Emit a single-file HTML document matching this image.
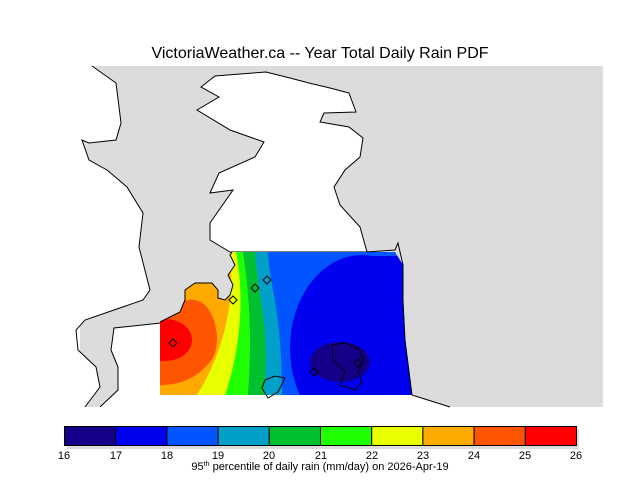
<!DOCTYPE html>
<html><head><meta charset="utf-8"><style>
body{margin:0;background:#fff;}
svg{display:block;font-family:"Liberation Sans",sans-serif;}
</style></head><body>
<svg width="640" height="480" viewBox="0 0 640 480">
<text x="320" y="58" font-size="16" text-anchor="middle" fill="#000">VictoriaWeather.ca -- Year Total Daily Rain PDF</text>
<rect x="80" y="66" width="523" height="341" fill="#dcdcdc"/>
<path d="M80,66 L92,66 L116,83 L121,123 L116,140 L89,143 L82,140 L89,160 L107,170 L127,187 L143,213 L139,247 L150,290 L143,300 L114,310 L85,320 L76,330 L78,350 L96,367 L100,387 L85,407 L80,407 Z" fill="#fff"/>
<path d="M92,66 L116,83 L121,123 L116,140 L89,143 L82,140 L89,160 L107,170 L127,187 L143,213 L139,247 L150,290 L143,300 L114,310 L85,320 L76,330 L78,350 L96,367 L100,387 L85,407" fill="none" stroke="#000"/>
<path d="M161,323 L114,328 L111,350 L118,367 L118,390 L100,407 L160,407 Z" fill="#fff"/>
<path d="M161,323 L114,328 L111,350 L118,367 L118,390 L100,407" fill="none" stroke="#000"/>
<rect x="159" y="394" width="256" height="13" fill="#fff"/>
<path d="M201,87 L215,76 L240,74 L266,72 L290,78 L309,83 L330,88 L349,93 L356,112 L324,113 L320,122 L349,127 L363,138 L360,157 L345,170 L334,187 L340,205 L360,227 L367,252 L230,252 L210,240 L210,223 L233,190 L210,193 L219,173 L255,157 L264,142 L230,130 L197,110 L219,97 Z" fill="#fff" stroke="#000" stroke-width="1"/>
<path d="M412,395 L450,407 L415,407 Z" fill="#fff"/>
<path d="M412,395 L450,407" stroke="#000" fill="none"/>
<defs><clipPath id="c"><path d="M160,395 L160,322 L168,318 L180,312 L185,300 L185,290 L195,283 L212,283 L218,290 L218,298 L225,300 L230,295 L233,285 L228,275 L235,265 L230,255 L232,252 L395,252 L403,265 L403,300 L405,340 L412,395 Z"/></clipPath></defs>
<g clip-path="url(#c)">
<rect x="150" y="250" width="270" height="150" fill="#0055ff"/>
<ellipse cx="362" cy="348" rx="72" ry="93" fill="#0000f0"/>
<rect x="362" y="256" width="60" height="145" fill="#0000f0"/>
<ellipse cx="340" cy="362" rx="30" ry="20" fill="#140088"/>
<path d="M150,252 L268,252 C270,290 282,310 282,395 L150,395 Z" fill="#00a0c8"/>
<path d="M150,252 L255,252 C258,300 270,320 264,395 L150,395 Z" fill="#00c030"/>
<path d="M150,252 L243,252 C250,300 252,340 248,395 L150,395 Z" fill="#20ff00"/>
<path d="M150,252 L236,252 C245,300 240,350 225,395 L150,395 Z" fill="#e8ff00"/>
<path d="M150,252 L230,252 C235,300 225,350 197,395 L150,395 Z" fill="#ffaa00"/>
<path d="M150,300 L188,300 C215,295 225,345 210,362 C195,380 178,385 160,385 L150,385 Z" fill="#ff5500"/>
<ellipse cx="165" cy="340" rx="27" ry="21" fill="#ff0000"/>
</g>
<path d="M160,322 L168,318 L180,312 L185,300 L185,290 L195,283 L212,283 L218,290 L218,298 L225,300 L230,295 L233,285 L228,275 L235,265 L230,255 L232,252" fill="none" stroke="#000"/>
<path d="M367,252 L395,250 L398,243 L403,265 L403,300 L405,340 L412,395" fill="none" stroke="#000"/>
<path d="M265,380 L275,376 L285,378 L278,392 L268,398 L262,388 Z" fill="none" stroke="#000"/>
<path d="M332,345 L345,343 L360,350 L363,362 L358,372 L362,382 L355,390 L340,385 L345,372 L333,360 Z" fill="none" stroke="#000"/>
<g fill="none" stroke="#000">
<path d="M173,339 l4,4 l-4,4 l-4,-4 z"/>
<path d="M233,296 l4,4 l-4,4 l-4,-4 z"/>
<path d="M255,284 l4,4 l-4,4 l-4,-4 z"/>
<path d="M267,276 l4,4 l-4,4 l-4,-4 z"/>
<path d="M314,368 l4,4 l-4,4 l-4,-4 z"/>
<path d="M358,359 l4,4 l-4,4 l-4,-4 z"/>
</g>
<rect x="67" y="429" width="512" height="20" fill="#dcdcdc"/>
<g stroke="#000" stroke-width="1">
<rect x="64.5" y="426.5" width="51.2" height="19" fill="#140088"/>
<rect x="115.7" y="426.5" width="51.2" height="19" fill="#0000f0"/>
<rect x="166.9" y="426.5" width="51.2" height="19" fill="#0055ff"/>
<rect x="218.1" y="426.5" width="51.2" height="19" fill="#00a0c8"/>
<rect x="269.3" y="426.5" width="51.2" height="19" fill="#00c030"/>
<rect x="320.5" y="426.5" width="51.2" height="19" fill="#20ff00"/>
<rect x="371.7" y="426.5" width="51.2" height="19" fill="#e8ff00"/>
<rect x="422.9" y="426.5" width="51.2" height="19" fill="#ffaa00"/>
<rect x="474.1" y="426.5" width="51.2" height="19" fill="#ff5500"/>
<rect x="525.3" y="426.5" width="51.2" height="19" fill="#ff0000"/>
</g>
<g font-size="11" text-anchor="middle" fill="#000">
<text x="64" y="459">16</text><text x="116" y="459">17</text><text x="167" y="459">18</text>
<text x="218" y="459">19</text><text x="269" y="459">20</text><text x="321" y="459">21</text>
<text x="372" y="459">22</text><text x="423" y="459">23</text><text x="474" y="459">24</text>
<text x="525" y="459">25</text><text x="576" y="459">26</text>
<text x="320" y="470">95<tspan font-size="7" dy="-4">th</tspan><tspan dy="4"> percentile of daily rain (mm/day) on 2026-Apr-19</tspan></text>
</g>
</svg>
</body></html>
